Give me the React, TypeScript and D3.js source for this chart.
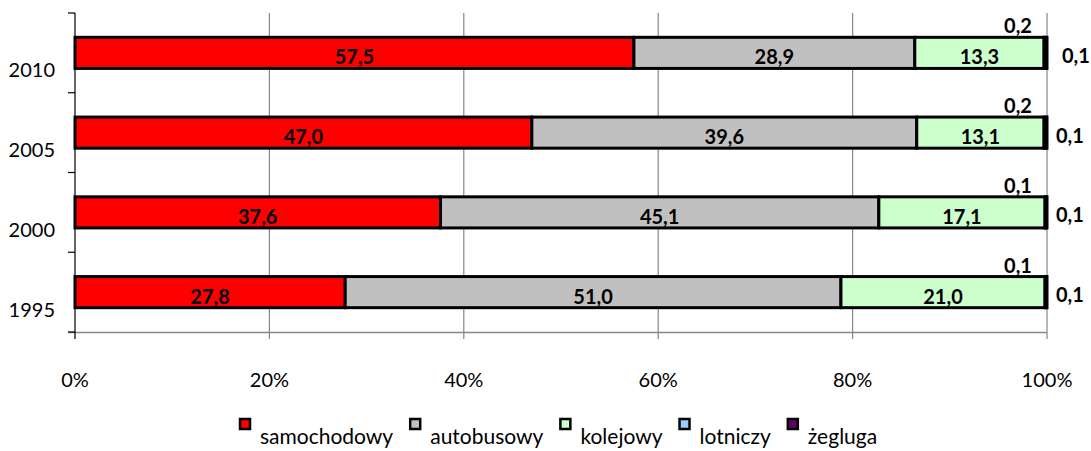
import React, { useEffect, useRef } from "react";
import * as d3 from "d3";

const years = ["2010", "2005", "2000", "1995"];
const seriesNames = ["samochodowy", "autobusowy", "kolejowy", "lotniczy", "żegluga"];
const seriesColors = ["#FF0000", "#C0C0C0", "#CCFFCC", "#99CCFF", "#660066"];
const samochodowy = [57.5, 47.0, 37.6, 27.8];
const autobusowy = [28.9, 39.6, 45.1, 51.0];
const kolejowy = [13.3, 13.1, 17.1, 21.0];
const lotniczy = [0.2, 0.2, 0.1, 0.1];
const zegluga = [0.1, 0.1, 0.1, 0.1];
const xTicks = [0, 20, 40, 60, 80, 100];

const W = 1091;
const H = 451;
const FONT = "Lato, 'Open Sans', sans-serif";

export default function App() {
  const ref = useRef<SVGSVGElement>(null);

  useEffect(() => {
    const svg = d3.select(ref.current);
    svg.selectAll("*").remove();

    const cols = [samochodowy, autobusowy, kolejowy, lotniczy, zegluga];
    const table = years.map((y, i) => {
      const row: any = { year: y };
      seriesNames.forEach((s, j) => (row[s] = cols[j][i]));
      return row;
    });
    const stacked = d3.stack<any>().keys(seriesNames)(table);

    const x = d3.scaleLinear().domain([0, 100]).range([75, 1047]);
    const y = d3.scaleBand().domain(years).range([13, 332]).paddingInner(0.61).paddingOuter(0.305);
    const band = d3.scaleBand().domain(years).range([13, 332]);
    const fmt = (v: number) => v.toFixed(1).replace(".", ",");

    // gridlines
    svg
      .append("g")
      .selectAll("line")
      .data(xTicks.filter((t) => t > 0))
      .join("line")
      .attr("x1", (d) => x(d))
      .attr("x2", (d) => x(d))
      .attr("y1", 13)
      .attr("y2", 339)
      .attr("stroke", "#878787")
      .attr("stroke-width", 1.2);

    // bottom axis line
    svg
      .append("line")
      .attr("x1", 68)
      .attr("x2", x(100))
      .attr("y1", 332.5)
      .attr("y2", 332.5)
      .attr("stroke", "#878787")
      .attr("stroke-width", 1.5);

    // left axis
    svg
      .append("line")
      .attr("x1", x(0))
      .attr("x2", x(0))
      .attr("y1", 13)
      .attr("y2", 339)
      .attr("stroke", "#000")
      .attr("stroke-width", 1.2);
    const bticks = [...years.map((yy) => band(yy)!), 332];
    svg
      .append("g")
      .selectAll("line")
      .data(bticks)
      .join("line")
      .attr("x1", 68)
      .attr("x2", x(0))
      .attr("y1", (d) => d)
      .attr("y2", (d) => d)
      .attr("stroke", "#000")
      .attr("stroke-width", 1.2);

    // bars
    stacked.forEach((s, j) => {
      svg
        .append("g")
        .selectAll("rect")
        .data(s)
        .join("rect")
        .attr("x", (d) => x(d[0]))
        .attr("width", (d) => Math.max(0, x(d[1]) - x(d[0])))
        .attr("y", (d) => y(d.data.year)!)
        .attr("height", y.bandwidth())
        .attr("fill", seriesColors[j])
        .attr("stroke", "#000")
        .attr("stroke-width", 3);
    });

    // inside labels for first three series
    stacked.slice(0, 3).forEach((s) => {
      svg
        .append("g")
        .selectAll("text")
        .data(s)
        .join("text")
        .attr("x", (d) => x((d[0] + d[1]) / 2))
        .attr("y", (d) => y(d.data.year)! + y.bandwidth() / 2 + 11.5)
        .attr("text-anchor", "middle")
        .attr("font-family", FONT)
        .attr("font-weight", "bold")
        .attr("font-size", 20)
        .attr("fill", "#000")
        .text((d) => fmt(d[1] - d[0]));
    });

    // lotniczy labels above
    svg
      .append("g")
      .selectAll("text")
      .data(stacked[3])
      .join("text")
      .attr("x", 1018)
      .attr("y", (d) => y(d.data.year)! - 4)
      .attr("text-anchor", "middle")
      .attr("font-family", FONT)
      .attr("font-weight", "bold")
      .attr("font-size", 20)
      .text((d) => fmt(d[1] - d[0]));

    // żegluga labels right
    svg
      .append("g")
      .selectAll("text")
      .data(stacked[4])
      .join("text")
      .attr("x", (d, i) => x(100) + (i === 0 ? 15 : 9))
      .attr("y", (d) => y(d.data.year)! + y.bandwidth() / 2 + 10)
      .attr("font-family", FONT)
      .attr("font-weight", "bold")
      .attr("font-size", 20)
      .text((d) => fmt(d[1] - d[0]));

    // y labels
    svg
      .append("g")
      .selectAll("text")
      .data(years)
      .join("text")
      .attr("x", 55)
      .attr("y", (d) => band(d)! + band.bandwidth() / 2 + 24.5)
      .attr("text-anchor", "end")
      .attr("font-family", FONT)
      .attr("font-size", 20)
      .text((d) => d);

    // x tick labels
    svg
      .append("g")
      .selectAll("text")
      .data(xTicks)
      .join("text")
      .attr("x", (d) => x(d))
      .attr("y", 387)
      .attr("text-anchor", "middle")
      .attr("font-family", FONT)
      .attr("font-size", 20)
      .text((d) => d + "%");

    // legend
    let lx = 240;
    seriesNames.forEach((name, j) => {
      svg
        .append("rect")
        .attr("x", lx)
        .attr("y", 419)
        .attr("width", 10)
        .attr("height", 10)
        .attr("fill", seriesColors[j])
        .attr("stroke", "#000")
        .attr("stroke-width", 2.5);
      const t = svg
        .append("text")
        .attr("x", lx + 20)
        .attr("y", 444)
        .attr("font-family", FONT)
        .attr("font-size", 21)
        .text(name);
      const w = (t.node() as SVGTextElement).getComputedTextLength();
      lx = lx + 20 + w + 17;
    });
  }, []);

  return (
    <svg
      ref={ref}
      width={W}
      height={H}
      style={{ position: "absolute", left: 0, top: 0, background: "#fff" }}
    />
  );
}
